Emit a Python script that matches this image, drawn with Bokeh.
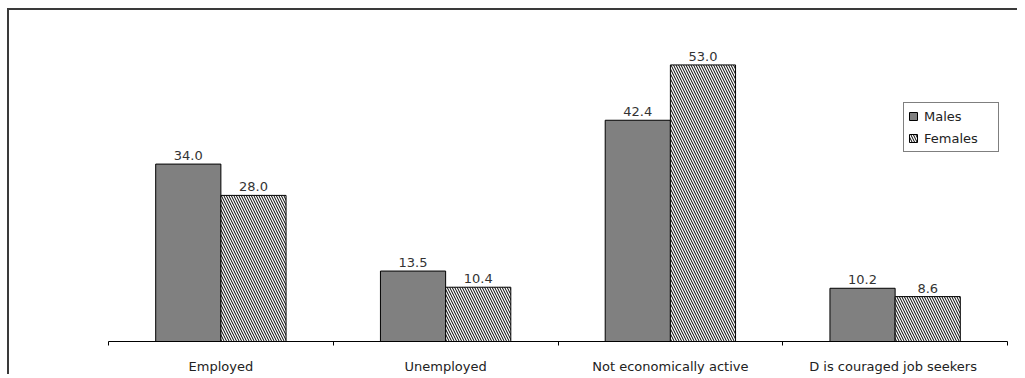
from bokeh.plotting import figure
from bokeh.models import FixedTicker, Legend, LegendItem, ColumnDataSource, Range1d
from bokeh.core.properties import value
from bokeh.embed import file_html
from bokeh.resources import INLINE

categories = ["Employed", "Unemployed", "Not economically active", "D is couraged  job seekers"]
males = [34.0, 13.5, 42.4, 10.2]
females = [28.0, 10.4, 53.0, 8.6]
series_names = ["Males", "Females"]

FONT = "DejaVu Sans"
W, H = 1010, 366

p = figure(width=W, height=H, output_backend="svg", toolbar_location=None,
           x_range=Range1d(0, len(categories)), y_range=Range1d(0, 61.9),
           min_border_left=99, min_border_right=12, min_border_top=8, min_border_bottom=33,
           y_axis_location=None, tools="")
p.styles = {"border-left": "2px solid #3a3a3a", "border-top": "2px solid #3a3a3a",
            "margin-left": "7px", "margin-top": "8px"}
p.outline_line_color = None
p.xgrid.visible = False
p.ygrid.visible = False

centers = [i + 0.5 for i in range(len(categories))]
bw = 0.29
src_m = ColumnDataSource(dict(x=[c - bw / 2 for c in centers], top=males,
                              lab=[f"{v:.1f}" for v in males]))
src_f = ColumnDataSource(dict(x=[c + bw / 2 for c in centers], top=females,
                              lab=[f"{v:.1f}" for v in females]))

rm = p.vbar(x="x", top="top", width=bw, source=src_m, fill_color="#808080",
            line_color="black", line_width=1)
rf = p.vbar(x="x", top="top", width=bw, source=src_f, fill_color="white",
            line_color="black", line_width=1, hatch_pattern="\\", hatch_color="black",
            hatch_scale=5, hatch_weight=1)

for s in (src_m, src_f):
    p.text(x="x", y="top", text="lab", source=s, text_align="center",
           text_baseline="bottom", y_offset=-4, text_font=value(FONT),
           text_font_size="13px", text_color="#333333")

ax = p.xaxis[0]
ax.ticker = FixedTicker(ticks=centers, minor_ticks=list(range(len(categories) + 1)))
ax.major_label_overrides = {c: name for c, name in zip(centers, categories)}
ax.major_tick_out = 0
ax.major_tick_in = 0
ax.minor_tick_out = 4
ax.minor_tick_in = 0
ax.minor_tick_line_color = "black"
ax.axis_line_color = "black"
ax.axis_line_width = 1
ax.major_label_text_font = FONT
ax.major_label_text_font_size = "13px"
ax.major_label_text_color = "#222222"
ax.major_label_standoff = 13

legend = Legend(items=[LegendItem(label=series_names[0], renderers=[rm]),
                       LegendItem(label=series_names[1], renderers=[rf])],
                location=(795, 189), glyph_width=10, glyph_height=10,
                label_text_font=FONT, label_text_font_size="13px",
                label_text_color="#222222", label_standoff=6, label_width=70,
                label_height=18, spacing=4, padding=4, margin=0,
                border_line_color="black", border_line_width=1,
                background_fill_alpha=1)
p.add_layout(legend)

open("out.html", "w").write(file_html(p, INLINE))
